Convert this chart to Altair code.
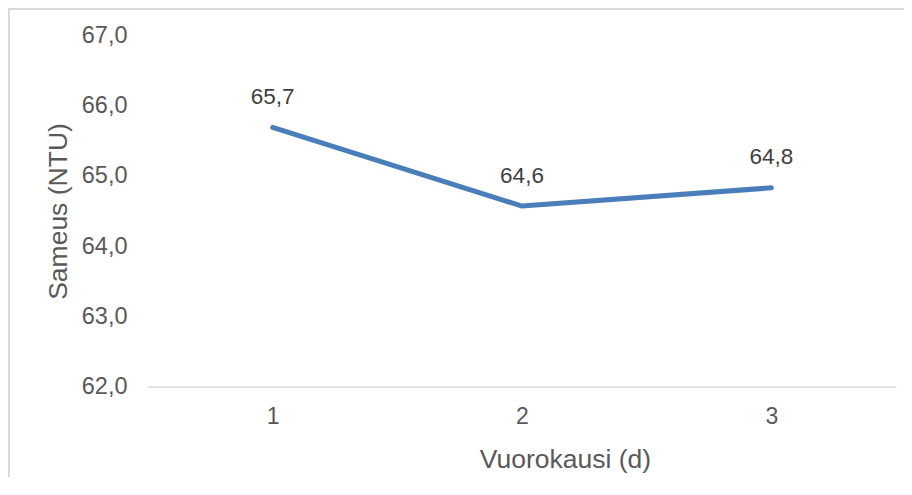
import altair as alt
import pandas as pd

# Data
days = ["1", "2", "3"]
sameus = [65.69, 64.57, 64.83]
y_ticks = [62, 63, 64, 65, 66, 67]

df = pd.DataFrame({"day": days, "sameus": sameus})

FONT = "Liberation Sans"
W, H = 748, 351
PAD_L, PAD_T = 140, 27.5

base = alt.Chart(df)

x_enc = alt.X(
    "day:O",
    sort=days,
    scale=alt.Scale(type="point", padding=0.5),
    axis=alt.Axis(
        title="Vuorokausi (d)",
        labelAngle=0,
        labelFont=FONT,
        labelFontSize=23,
        labelColor="#595959",
        labelPadding=18.5,
        ticks=False,
        tickSize=0,
        domain=True,
        domainColor="#d9d9d9",
        domainWidth=1.6,
        grid=False,
        titleFont=FONT,
        titleFontSize=26.5,
        titleFontWeight="normal",
        titleColor="#595959",
        titleX=417,
        titleY=81,
        titleAlign="center",
        titleBaseline="alphabetic",
        titleAnchor="start",
    ),
)

y_enc = alt.Y(
    "sameus:Q",
    scale=alt.Scale(domain=[62, 67], nice=False, zero=False),
    axis=alt.Axis(
        title="Sameus (NTU)",
        values=y_ticks,
        labelExpr="replace(format(datum.value, '.1f'), '.', ',')",
        labelFont=FONT,
        labelFontSize=23.5,
        labelColor="#595959",
        labelPadding=21,
        ticks=False,
        tickSize=0,
        domain=False,
        grid=False,
        titleFont=FONT,
        titleFontSize=26.5,
        titleFontWeight="normal",
        titleColor="#595959",
        titleX=-82,
        titleY=H / 2,
        titleAlign="center",
        titleBaseline="alphabetic",
        titleAngle=270,
    ),
)

line = base.mark_line(
    color="#4a7ebb", strokeWidth=5, strokeCap="round", strokeJoin="round"
).encode(x=x_enc, y=y_enc)

labels = base.transform_calculate(
    lab="replace(format(datum.sameus, '.1f'), '.', ',')"
).mark_text(
    font=FONT, fontSize=22.5, color="#404040", baseline="alphabetic", align="center", dy=-23.5
).encode(x=alt.X("day:O", sort=days), y="sameus:Q", text="lab:N")

border_data = alt.Data(values=[{"k": 1}])
left_border = alt.Chart(border_data).mark_rule(color="#d9d9d9", strokeWidth=2).encode(
    x=alt.value(-139), y=alt.value(-27.5), y2=alt.value(H + 100)
)
top_border = alt.Chart(border_data).mark_rule(color="#d9d9d9", strokeWidth=2).encode(
    x=alt.value(-140), x2=alt.value(W + 8), y=alt.value(-26.5)
)

chart = alt.layer(left_border, top_border, line, labels).properties(
    width=W,
    height=H,
    padding={"left": PAD_L, "top": PAD_T, "right": 8, "bottom": 90},
    autosize=alt.AutoSizeParams(type="none"),
    background="white",
).configure_view(stroke=None)

chart.save("out.html", embed_options={"renderer": "svg", "actions": False})
